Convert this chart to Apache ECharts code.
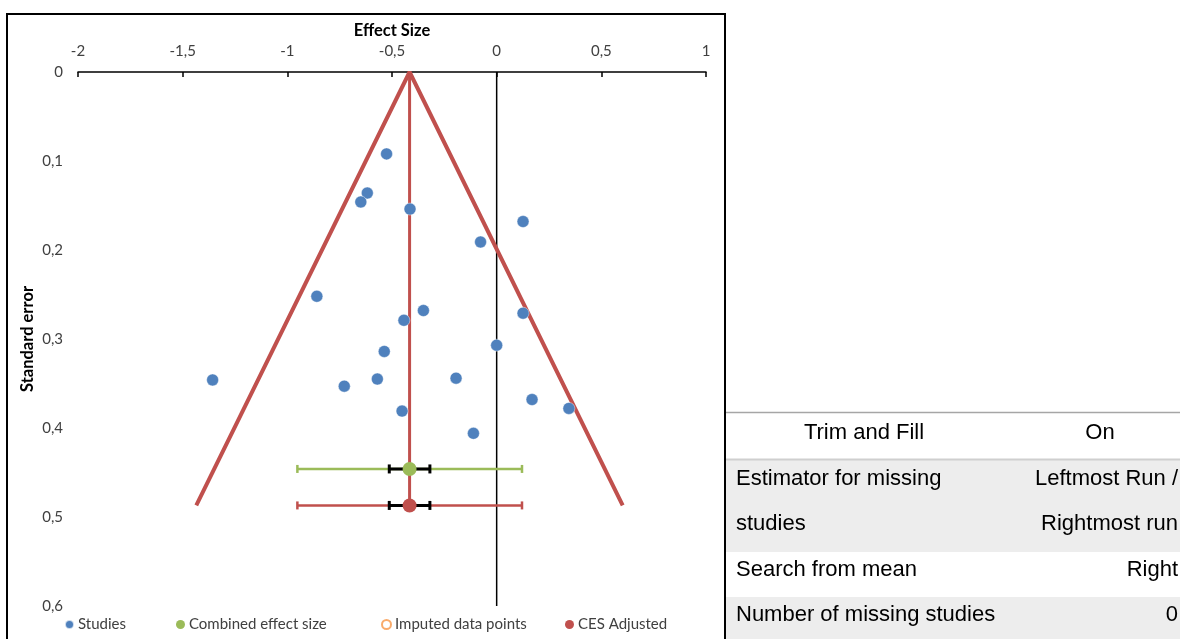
<!DOCTYPE html>
<html>
<head>
<meta charset="utf-8">
<script src="https://cdn.jsdelivr.net/npm/echarts@6/dist/echarts.min.js"></script>
<style>
html,body{margin:0;padding:0;background:#fff;}
#chart{width:1180px;height:639px;}
</style>
</head>
<body>
<div id="chart"></div>
<script>
// ---- Data ----
const xTicks = [-2, -1.5, -1, -0.5, 0, 0.5, 1];
const yTicks = [0, 0.1, 0.2, 0.3, 0.4, 0.5, 0.6];
const studyEffect = [-0.526, -0.618, -0.649, -0.414, 0.126, -0.077, -0.859, -0.350, 0.126, -0.443,
                     0.000, -0.537, -1.357, -0.570, -0.728, -0.194, 0.169, 0.345, -0.452, -0.111];
const studySE     = [0.092, 0.136, 0.146, 0.154, 0.168, 0.191, 0.252, 0.268, 0.271, 0.279,
                     0.307, 0.314, 0.346, 0.345, 0.353, 0.344, 0.368, 0.378, 0.381, 0.406];
const meanEffect = -0.416;
const combinedPoint = [-0.416, 0.446];
const adjustedPoint = [-0.416, 0.487];
const outerCI = [-0.952, 0.121];
const innerCI = [-0.513, -0.319];
const funnelLine = [[-1.435, 0.487], [-0.416, 0], [0.602, 0.487]];
const meanLine = [[-0.416, 0], [-0.416, 0.487]];
const zeroLine = [[0, 0], [0, 0.6]];
const legendNames = ['Studies', 'Combined effect size', 'Imputed data points', 'CES Adjusted'];
const tableRows = [
  ['Trim and Fill', 'On'],
  ['Estimator for missing', 'Leftmost Run /'],
  ['studies', 'Rightmost run'],
  ['Search from mean', 'Right'],
  ['Number of missing studies', '0']
];

const blue = '#4F81BD', green = '#9BBB59', red = '#C0504D', orange = '#F79646';
const fmt = v => String(Math.round(v * 10) / 10).replace('.', ',');
const txt = '#404040';
const font = 'Lato';

function errBar(color, width, cap) {
  return function (params, api) {
    const y = api.value(2);
    const p1 = api.coord([api.value(0), y]);
    const p2 = api.coord([api.value(1), y]);
    const st = { stroke: color, lineWidth: width };
    return {
      type: 'group',
      children: [
        { type: 'line', shape: { x1: p1[0], y1: p1[1], x2: p2[0], y2: p2[1] }, style: st },
        { type: 'line', shape: { x1: p1[0], y1: p1[1] - cap, x2: p1[0], y2: p1[1] + cap }, style: st },
        { type: 'line', shape: { x1: p2[0], y1: p2[1] - cap, x2: p2[0], y2: p2[1] + cap }, style: st }
      ]
    };
  };
}

const chart = echarts.init(document.getElementById('chart'), null, { renderer: 'canvas' });

// table graphics
const tableX = 726, tableR = 1180;
const graphics = [
  { type: 'rect', shape: { x: tableX, y: 459, width: tableR - tableX, height: 93 }, style: { fill: '#EDEDED' }, z: 0 },
  { type: 'rect', shape: { x: tableX, y: 597, width: tableR - tableX, height: 45 }, style: { fill: '#EDEDED' }, z: 0 },
  { type: 'line', shape: { x1: tableX, y1: 412.5, x2: tableR, y2: 412.5 }, style: { stroke: '#A6A6A6', lineWidth: 1.5 } },
  { type: 'line', shape: { x1: tableX, y1: 459.5, x2: tableR, y2: 459.5 }, style: { stroke: '#CFCFCF', lineWidth: 2 } },
  { type: 'rect', shape: { x: 7, y: 14, width: 718, height: 640 }, style: { fill: null, stroke: '#000', lineWidth: 2 }, z: 10 }
];
const tStyle = { fontFamily: 'Liberation Sans, Arial', fontSize: 22, fill: '#000', textVerticalAlign: 'middle' };
const rowY = [433, 479, 524, 570, 615];
tableRows.forEach((r, i) => {
  if (i === 0) {
    graphics.push({ type: 'text', x: 864, y: rowY[i], style: Object.assign({ text: r[0], textAlign: 'center' }, tStyle) });
    graphics.push({ type: 'text', x: 1100, y: rowY[i], style: Object.assign({ text: r[1], textAlign: 'center' }, tStyle) });
  } else {
    graphics.push({ type: 'text', x: 736, y: rowY[i], style: Object.assign({ text: r[0], textAlign: 'left' }, tStyle) });
    graphics.push({ type: 'text', x: 1178, y: rowY[i], style: Object.assign({ text: r[1], textAlign: 'right' }, tStyle) });
  }
});

const legendLefts = [59, 171, 376, 560];
const legends = legendNames.map((n, i) => ({
  left: legendLefts[i], top: 612,
  itemWidth: 9, itemHeight: 9, itemGap: 10,
  selectedMode: false,
  textStyle: { fontFamily: font, fontSize: 15, color: txt, padding: [0, 0, 0, -1] },
  data: [i === 2
    ? { name: n, icon: 'circle', itemStyle: { color: '#fff', borderColor: orange, borderWidth: 2 } }
    : { name: n, icon: 'circle' }]
}));

const option = {
  animation: false,
  backgroundColor: '#fff',
  graphic: graphics,
  legend: legends,
  grid: { left: 78, right: 474, top: 72, bottom: 33, containLabel: false },
  xAxis: {
    type: 'value', position: 'top', min: xTicks[0], max: xTicks[xTicks.length - 1], interval: 0.5,
    name: 'Effect Size', nameLocation: 'middle', nameGap: 32,
    nameTextStyle: { fontFamily: font, fontWeight: 'bold', fontSize: 16.5, color: '#000' },
    axisLine: { show: true, onZero: false, lineStyle: { color: '#000', width: 1.5 } },
    axisTick: { show: true, inside: true, length: 5, lineStyle: { color: '#000', width: 1.5 } },
    axisLabel: { fontFamily: font, fontSize: 15, color: txt, margin: 13, formatter: fmt },
    splitLine: { show: false }
  },
  yAxis: {
    type: 'value', inverse: true, min: yTicks[0], max: yTicks[yTicks.length - 1], interval: 0.1,
    name: 'Standard error', nameLocation: 'middle', nameGap: 42, nameMoveOverlap: false,
    nameTextStyle: { fontFamily: font, fontWeight: 'bold', fontSize: 16.5, color: '#000' },
    axisLine: { show: false }, axisTick: { show: false },
    axisLabel: { fontFamily: font, fontSize: 15, color: txt, margin: 15, formatter: fmt },
    splitLine: { show: false }
  },
  series: [
    { type: 'line', data: zeroLine, symbol: 'none', lineStyle: { color: '#000', width: 1.5 }, z: 1, silent: true },
    { type: 'line', data: funnelLine, symbol: 'none', lineStyle: { color: red, width: 4 }, z: 2, silent: true },
    { type: 'line', data: meanLine, symbol: 'none', lineStyle: { color: red, width: 3 }, z: 2, silent: true },
    { type: 'custom', renderItem: errBar(green, 2.5, 4), data: [[outerCI[0], outerCI[1], combinedPoint[1]]], z: 3, silent: true },
    { type: 'custom', renderItem: errBar(red, 2.5, 4), data: [[outerCI[0], outerCI[1], adjustedPoint[1]]], z: 3, silent: true },
    { type: 'custom', renderItem: errBar('#000', 3, 4.5), data: [[innerCI[0], innerCI[1], combinedPoint[1]], [innerCI[0], innerCI[1], adjustedPoint[1]]], z: 4, silent: true },
    { name: 'Studies', type: 'scatter', symbolSize: 12, z: 6,
      itemStyle: { color: blue, borderColor: 'rgba(255,255,255,0.7)', borderWidth: 0.6, opacity: 1 },
      data: studyEffect.map((e, i) => [e, studySE[i]]) },
    { name: 'Combined effect size', type: 'scatter', symbolSize: 14, z: 5, itemStyle: { color: green, opacity: 1 }, data: [combinedPoint] },
    { name: 'Imputed data points', type: 'scatter', symbolSize: 10, itemStyle: { color: '#fff', borderColor: orange, borderWidth: 2 }, data: [] },
    { name: 'CES Adjusted', type: 'scatter', symbolSize: 14, z: 5, itemStyle: { color: red, opacity: 1 }, data: [adjustedPoint] }
  ]
};
chart.setOption(option);
</script>
</body>
</html>
